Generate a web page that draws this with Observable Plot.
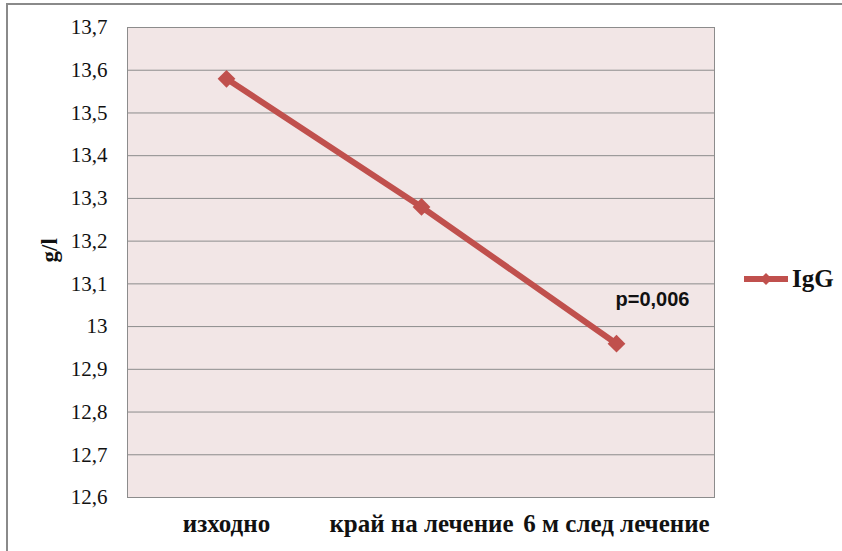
<!DOCTYPE html>
<html>
<head>
<meta charset="utf-8">
<script src="https://cdn.jsdelivr.net/npm/d3@7"></script>
<script src="https://cdn.jsdelivr.net/npm/@observablehq/plot@0.6"></script>
<style>
  html, body { margin: 0; padding: 0; background: #fff; overflow: hidden; }
  #wrap { position: relative; width: 842px; height: 551px; }
  #border { position: absolute; left: 6px; top: 3px; width: 900px; height: 600px;
            border: 2px solid #8a8a8a; pointer-events: none; }
  #legend { position: absolute; left: 742px; top: 265px; display: flex; align-items: center;
            font-family: "Liberation Serif", "Times New Roman", serif; font-weight: bold; font-size: 25px;
            color: #111; }
</style>
</head>
<body>
<div id="wrap"></div>
<script>
// Serum IgG at the three time points
const categories = ["изходно", "край на лечение", "6 м след лечение"];
const iggValues = [13.58, 13.28, 12.96];
const seriesName = "IgG";
const yTicks = [12.6, 12.7, 12.8, 12.9, 13, 13.1, 13.2, 13.3, 13.4, 13.5, 13.6, 13.7];
const yLabel = "g/l";
const pValueNote = "p=0,006";

const lineColor = "#C0504D";
const gridColor = "#8c8c8c";
const serif = "Liberation Serif, Times New Roman, serif";
const sans = "Liberation Sans, Arial, sans-serif";

const data = categories.map((c, i) => ({ period: c, value: iggValues[i] }));
const last = data[data.length - 1];

const chart = Plot.plot({
  width: 842,
  height: 551,
  marginLeft: 127,
  marginRight: 128,
  marginTop: 27,
  marginBottom: 54,
  style: { background: "transparent" },
  x: { type: "point", domain: categories, padding: 0.5 },
  y: { domain: [12.6, 13.7] },
  marks: [
    Plot.frame({ fill: "#F2E6E6", stroke: null }),
    Plot.gridY(yTicks, { stroke: gridColor, strokeOpacity: 1, strokeWidth: 1 }),
    Plot.frame({ stroke: gridColor, strokeWidth: 1 }),
    Plot.axisY(yTicks, {
      tickSize: 0, tickPadding: 20, label: null, fontSize: 21, fill: "#111", fontFamily: serif,
      tickFormat: d => String(d).replace(".", ",")
    }),
    Plot.axisX({
      tickSize: 0, tickPadding: 17, label: null, fontSize: 25, fontWeight: "bold", fill: "#111",
      fontFamily: serif
    }),
    Plot.text([yLabel], {
      frameAnchor: "left", dx: -78, rotate: -90, fontSize: 23, fontWeight: "bold", fill: "#111",
      fontFamily: serif
    }),
    Plot.line(data, { x: "period", y: "value", stroke: lineColor, strokeWidth: 6 }),
    Plot.dot(data, { x: "period", y: "value", symbol: "diamond2", r: 8, fill: lineColor, stroke: null }),
    Plot.text([last], {
      x: "period", y: "value", text: () => pValueNote, dx: 36, dy: -44,
      fontFamily: sans, fontWeight: "bold", fontSize: 20, fill: "#111"
    })
  ]
});

const wrap = document.getElementById("wrap");
wrap.appendChild(chart);

// Series legend on the right
const legend = document.createElement("div");
legend.id = "legend";
legend.innerHTML =
  `<svg width="48" height="16" style="margin-right:2px">
     <line x1="2" y1="8" x2="46" y2="8" stroke="${lineColor}" stroke-width="6"/>
     <path d="M24 2 L30 8 L24 14 L18 8 Z" fill="${lineColor}"/>
   </svg><span>${seriesName}</span>`;
wrap.appendChild(legend);

const border = document.createElement("div");
border.id = "border";
wrap.appendChild(border);
</script>
</body>
</html>
